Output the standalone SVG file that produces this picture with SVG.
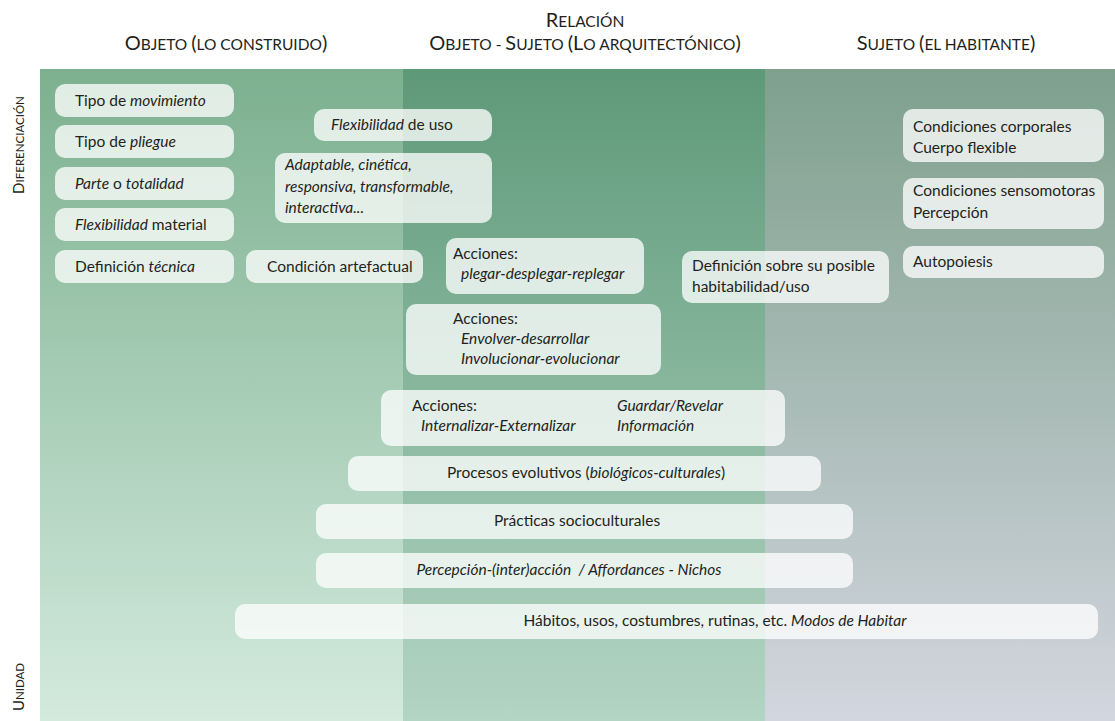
<svg xmlns="http://www.w3.org/2000/svg" width="1115" height="721" viewBox="0 0 1115 721">
  <defs>
    <linearGradient id="gObj" x1="0" y1="0" x2="0" y2="1">
      <stop offset="0" stop-color="#7cb08f"/>
      <stop offset="1" stop-color="#d3eadd"/>
    </linearGradient>
    <linearGradient id="gRel" x1="0" y1="0" x2="0" y2="1">
      <stop offset="0" stop-color="#5e9979"/>
      <stop offset="1" stop-color="#b3d5c3"/>
    </linearGradient>
    <linearGradient id="gSuj" x1="0" y1="0" x2="0" y2="1">
      <stop offset="0" stop-color="#7ea08d"/>
      <stop offset="1" stop-color="#d3d6df"/>
    </linearGradient>
  </defs>
  <style>
    .bx { fill: #ffffff; fill-opacity: 0.76; }
    .t { font-family: Lato, "Liberation Sans", sans-serif; font-size: 15.5px; fill: #231f20; }
    .i { font-style: italic; }
    .hd { font-family: Lato, "Liberation Sans", sans-serif; fill: #231f20; }
    .big { font-size: 20px; }
    .sm { font-size: 15.5px; }
    .vbig { font-size: 15px; }
    .vsm { font-size: 11.5px; }
  </style>

  <rect width="1115" height="721" fill="#ffffff"/>

  <!-- column backgrounds -->
  <g id="columns">
    <rect x="40" y="69" width="363" height="652" fill="url(#gObj)"/>
    <rect x="403" y="69" width="362" height="652" fill="url(#gRel)"/>
    <rect x="765" y="69" width="350" height="652" fill="url(#gSuj)"/>
  </g>

  <!-- column headings (small caps) -->
  <g id="headings">
    <text class="hd" x="226" y="50" text-anchor="middle"><tspan class="big">O</tspan><tspan class="sm">BJETO </tspan><tspan class="big">(</tspan><tspan class="sm">LO CONSTRUIDO</tspan><tspan class="big">)</tspan></text>
    <text class="hd" x="585" y="27" text-anchor="middle"><tspan class="big">R</tspan><tspan class="sm">ELACIÓN</tspan></text>
    <text class="hd" x="585" y="50" text-anchor="middle"><tspan class="big">O</tspan><tspan class="sm">BJETO - </tspan><tspan class="big">S</tspan><tspan class="sm">UJETO </tspan><tspan class="big">(L</tspan><tspan class="sm">O ARQUITECTÓNICO</tspan><tspan class="big">)</tspan></text>
    <text class="hd" x="946" y="50" text-anchor="middle"><tspan class="big">S</tspan><tspan class="sm">UJETO </tspan><tspan class="big">(</tspan><tspan class="sm">EL HABITANTE</tspan><tspan class="big">)</tspan></text>
  </g>

  <!-- vertical axis labels -->
  <g id="axis">
    <text class="hd" transform="translate(24,145) rotate(-90)" text-anchor="middle"><tspan class="vbig">D</tspan><tspan class="vsm">IFERENCIACIÓN</tspan></text>
    <text class="hd" transform="translate(24,687) rotate(-90)" text-anchor="middle"><tspan class="vbig">U</tspan><tspan class="vsm">NIDAD</tspan></text>
  </g>

  <!-- objeto column -->
  <g id="tipo-movimiento">
    <rect class="bx" x="55" y="84" width="179" height="33" rx="10"/>
    <text class="t" x="75" y="106">Tipo de <tspan class="i">movimiento</tspan></text>
  </g>
  <g id="tipo-pliegue">
    <rect class="bx" x="55" y="125" width="179" height="33" rx="10"/>
    <text class="t" x="75" y="147">Tipo de <tspan class="i">pliegue</tspan></text>
  </g>
  <g id="parte-totalidad">
    <rect class="bx" x="55" y="167" width="179" height="33" rx="10"/>
    <text class="t" x="75" y="189"><tspan class="i">Parte</tspan> o <tspan class="i">totalidad</tspan></text>
  </g>
  <g id="flexibilidad-material">
    <rect class="bx" x="55" y="208" width="179" height="33" rx="10"/>
    <text class="t" x="75" y="230"><tspan class="i">Flexibilidad</tspan> material</text>
  </g>
  <g id="definicion-tecnica">
    <rect class="bx" x="55" y="250" width="179" height="33" rx="10"/>
    <text class="t" x="75" y="272">Definición <tspan class="i">técnica</tspan></text>
  </g>
  <g id="condicion-artefactual">
    <rect class="bx" x="246" y="250" width="177" height="33" rx="10"/>
    <text class="t" x="267" y="272">Condición artefactual</text>
  </g>
  <g id="flexibilidad-uso">
    <rect class="bx" x="314" y="109" width="178" height="32" rx="10"/>
    <text class="t" x="331" y="130"><tspan class="i">Flexibilidad</tspan> de uso</text>
  </g>
  <g id="adaptable">
    <rect class="bx" x="275" y="153" width="217" height="70" rx="10"/>
    <text class="t i" x="285" y="170">Adaptable, cinética,</text>
    <text class="t i" x="285" y="192">responsiva, transformable,</text>
    <text class="t i" x="285" y="213">interactiva...</text>
  </g>

  <!-- relación column -->
  <g id="acciones-plegar">
    <rect class="bx" x="446" y="238" width="198" height="56" rx="10"/>
    <text class="t" x="453" y="259">Acciones:</text>
    <text class="t i" x="461" y="279">plegar-desplegar-replegar</text>
  </g>
  <g id="acciones-envolver">
    <rect class="bx" x="406" y="304" width="255" height="71" rx="10"/>
    <text class="t" x="453" y="324">Acciones:</text>
    <text class="t i" x="461" y="344">Envolver-desarrollar</text>
    <text class="t i" x="461" y="364">Involucionar-evolucionar</text>
  </g>
  <g id="definicion-habitabilidad">
    <rect class="bx" x="682" y="251" width="207" height="52" rx="10"/>
    <text class="t" x="692" y="271">Definición sobre su posible</text>
    <text class="t" x="692" y="292">habitabilidad/uso</text>
  </g>
  <g id="acciones-internalizar">
    <rect class="bx" x="381" y="390" width="404" height="56" rx="10"/>
    <text class="t" x="412" y="411">Acciones:</text>
    <text class="t i" x="421" y="431">Internalizar-Externalizar</text>
    <text class="t i" x="617" y="411">Guardar/Revelar</text>
    <text class="t i" x="617" y="431">Información</text>
  </g>
  <g id="procesos-evolutivos">
    <rect class="bx" x="348" y="456" width="473" height="35" rx="10"/>
    <text class="t" x="586" y="478" text-anchor="middle">Procesos evolutivos (<tspan class="i">biológicos-culturales</tspan>)</text>
  </g>
  <g id="practicas">
    <rect class="bx" x="316" y="504" width="537" height="35" rx="10"/>
    <text class="t" x="577" y="526" text-anchor="middle">Prácticas socioculturales</text>
  </g>
  <g id="percepcion-affordances">
    <rect class="bx" x="316" y="553" width="537" height="35" rx="10"/>
    <text class="t i" x="569" y="575" text-anchor="middle">Percepción-(inter)acción&#160; / Affordances - Nichos</text>
  </g>
  <g id="habitos">
    <rect class="bx" x="235" y="604" width="863" height="35" rx="10"/>
    <text class="t" x="715" y="626" text-anchor="middle">Hábitos, usos, costumbres, rutinas, etc. <tspan class="i">Modos de Habitar</tspan></text>
  </g>

  <!-- sujeto column -->
  <g id="condiciones-corporales">
    <rect class="bx" x="903" y="109" width="201" height="53" rx="10"/>
    <text class="t" x="913" y="132">Condiciones corporales</text>
    <text class="t" x="913" y="153">Cuerpo flexible</text>
  </g>
  <g id="condiciones-sensomotoras">
    <rect class="bx" x="903" y="178" width="201" height="51" rx="10"/>
    <text class="t" x="913" y="196">Condiciones sensomotoras</text>
    <text class="t" x="913" y="218">Percepción</text>
  </g>
  <g id="autopoiesis">
    <rect class="bx" x="903" y="246" width="201" height="32" rx="10"/>
    <text class="t" x="913" y="267">Autopoiesis</text>
  </g>
</svg>
